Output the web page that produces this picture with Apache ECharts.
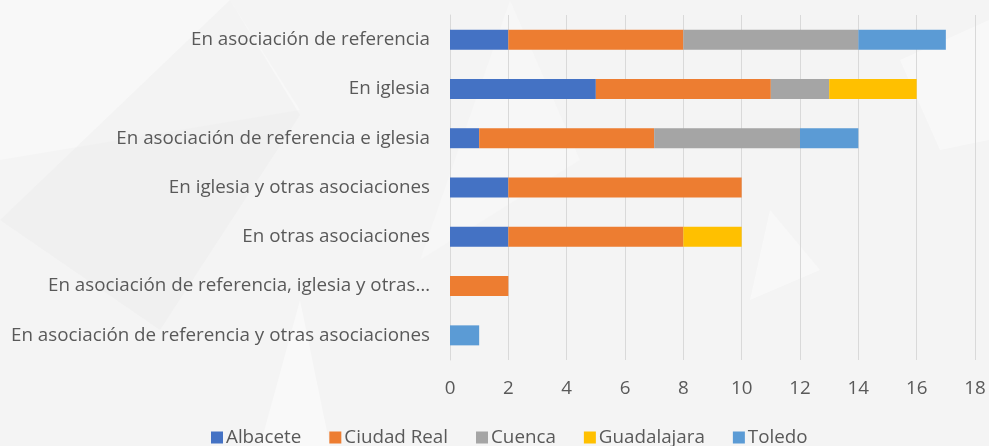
<!DOCTYPE html>
<html><head><meta charset="utf-8">
<script src="https://cdn.jsdelivr.net/npm/echarts@6/dist/echarts.min.js"></script>
<style>html,body{margin:0;padding:0;background:#f4f4f4}#c{width:989px;height:446px}</style>
</head><body><div id="c"></div>
<script>
const categories = [
  "En asociación de referencia",
  "En iglesia",
  "En asociación de referencia e iglesia",
  "En iglesia y otras asociaciones",
  "En otras asociaciones",
  "En asociación de referencia, iglesia y otras…",
  "En asociación de referencia y otras asociaciones"
];
const seriesNames = ["Albacete", "Ciudad Real", "Cuenca", "Guadalajara", "Toledo"];
const albacete    = [2, 5, 1, 2, 2, 0, 0];
const ciudadReal  = [6, 6, 6, 8, 6, 2, 0];
const cuenca      = [6, 2, 5, 0, 0, 0, 0];
const guadalajara = [0, 3, 0, 0, 2, 0, 0];
const toledo      = [3, 0, 2, 0, 0, 0, 1];
const xTicks = [0, 2, 4, 6, 8, 10, 12, 14, 16, 18];
const colors = ["#4472C4", "#ED7D31", "#A5A5A5", "#FFC000", "#5B9BD5"];
const values = [albacete, ciudadReal, cuenca, guadalajara, toledo];

const chart = echarts.init(document.getElementById('c'));
const font = '"Open Sans", sans-serif';
const fs = 18.8;
const deco = (pts, fill) => ({ type: 'polygon', silent: true, z: -10,
  shape: { points: pts }, style: { fill: fill } });
chart.setOption({
  backgroundColor: '#f4f4f4',
  textStyle: { fontFamily: font },
  graphic: [
    deco([[0,0],[230,0],[300,110],[0,160]], 'rgba(255,255,255,0.35)'),
    deco([[230,0],[300,115],[160,330],[0,220]], 'rgba(232,232,232,0.3)'),
    deco([[300,300],[330,446],[260,446]], 'rgba(255,255,255,0.45)'),
    deco([[510,0],[580,160],[420,260]], 'rgba(255,255,255,0.25)'),
    deco([[770,210],[820,270],[750,300]], 'rgba(255,255,255,0.4)'),
    deco([[900,60],[989,20],[989,140],[940,150]], 'rgba(255,255,255,0.4)')
  ],
  grid: { left: 450, right: 14, top: 15, bottom: 86, containLabel: false },
  legend: {
    bottom: -6, left: 206,
    itemWidth: 12, itemHeight: 12, itemGap: 28,
    icon: 'rect',
    textStyle: { color: '#595959', fontSize: fs, fontFamily: font, padding: [0, 0, 0, -2] },
    data: seriesNames
  },
  xAxis: {
    type: 'value', min: xTicks[0], max: xTicks[xTicks.length - 1], interval: 2,
    axisLine: { show: false }, axisTick: { show: false },
    splitLine: { lineStyle: { color: '#d9d9d9', width: 1 } },
    axisLabel: { color: '#595959', fontSize: fs, margin: 19 }
  },
  yAxis: {
    type: 'category', inverse: true, data: categories,
    axisLine: { lineStyle: { color: '#d9d9d9' } }, axisTick: { show: false },
    axisLabel: { color: '#595959', fontSize: fs, margin: 20 }
  },
  series: seriesNames.map((n, i) => ({
    name: n, type: 'bar', stack: 'total', barWidth: 20,
    itemStyle: { color: colors[i] },
    data: values[i].map(v => v === 0 ? null : v)
  }))
});
</script></body></html>
